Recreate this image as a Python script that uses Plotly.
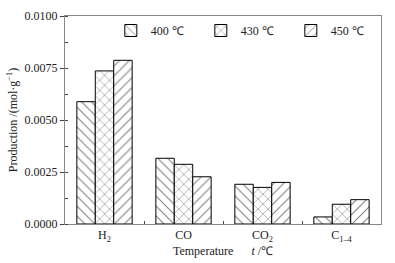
import plotly.graph_objects as go

categories = ["H<sub>2</sub>", "CO", "CO<sub>2</sub>", "C<sub>1–4</sub>"]
series_names = ["400 ℃", "430 ℃", "450 ℃"]
v400 = [0.00588, 0.00316, 0.00191, 0.00034]
v430 = [0.00736, 0.00287, 0.00176, 0.00095]
v450 = [0.00787, 0.00227, 0.00200, 0.00117]
patterns = ["\\", "x", "/"]
y_ticks = [0.0, 0.0025, 0.0050, 0.0075, 0.0100]
y_tick_labels = ["0.0000", "0.0025", "0.0050", "0.0075", "0.0100"]

font = "Liberation Serif"
fig = go.Figure()
for name, vals, pat in zip(series_names, [v400, v430, v450], patterns):
    fig.add_trace(go.Bar(
        x=categories, y=vals, name=name,
        marker=dict(color="white", line=dict(color="black", width=1),
                    pattern=dict(shape=pat, fgcolor="black", bgcolor="white",
                                 size=7, solidity=0.15)),
    ))

fig.update_layout(
    width=395, height=263,
    margin=dict(l=65, r=14, t=16, b=39, autoexpand=False),
    paper_bgcolor="white", plot_bgcolor="white",
    barmode="group", bargap=0.3, bargroupgap=0,
    font=dict(family=font, size=12, color="#222"),
    showlegend=True,
    legend=dict(orientation="h", x=0.145, y=1.0, xanchor="left", yanchor="top",
                bgcolor="rgba(0,0,0,0)", font=dict(family=font, size=12),
                traceorder="normal", entrywidth=45, itemwidth=30),
    xaxis=dict(showline=True, linecolor="#888", linewidth=1, mirror=True,
               ticks="inside", ticklen=3, tickcolor="#444", tickson="boundaries",
               tickfont=dict(family=font, size=12), showgrid=False, automargin=False,
               title=dict(text="Temperature      <i>t</i> /℃", font=dict(family=font, size=12), standoff=2)),
    yaxis=dict(range=[0, 0.0100], showline=True, linecolor="#888", linewidth=1, mirror=True,
               tickvals=y_ticks, ticktext=y_tick_labels, ticks="outside", ticklen=4,
               tickcolor="#444", showgrid=False, zeroline=False, automargin=False,
               minor=dict(dtick=0.00125, ticks="inside", ticklen=3, tickcolor="#444", showgrid=False),
               tickfont=dict(family=font, size=12),
               title=dict(text="Production /(mol·g<sup>−1</sup>)", font=dict(family=font, size=12), standoff=4)),
)
fig.write_html("out.html", config={"displayModeBar": False},
               post_script="document.body.style.margin='0';document.body.style.overflow='hidden';")
